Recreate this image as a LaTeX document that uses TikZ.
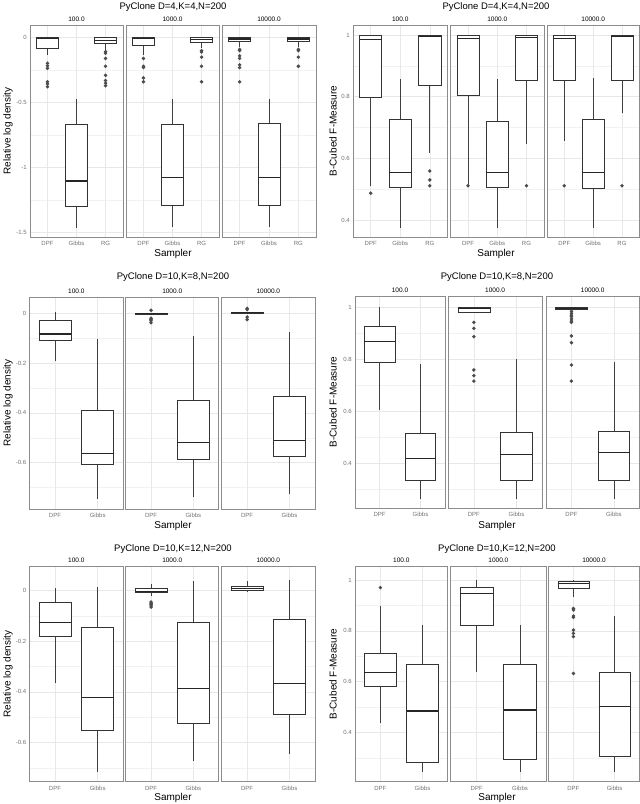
\documentclass[tikz,border=0pt]{standalone}
\usepackage{fontspec}
\setmainfont{Liberation Sans}
\begin{document}
\begin{tikzpicture}[x=1pt,y=-1pt]
\tikzset{
 gmaj/.style={draw=black!9, line width=0.5},
 gmin/.style={draw=black!5, line width=0.3},
 frm/.style={draw=black!45, line width=0.7},
 bxs/.style={draw=black!80, line width=0.6, fill=white},
 wh/.style={draw=black!75, line width=0.6},
 medl/.style={draw=black!85, line width=1.1},
 outl/.style={fill=black!70},
 ttl/.style={font=\fontsize{9.5}{10}\selectfont},
 facetlab/.style={font=\fontsize{6.5}{7}\selectfont},
 ticklab/.style={font=\fontsize{6}{6}\selectfont, text=black!55},
 axtitle/.style={font=\fontsize{10}{11}\selectfont}
}
\useasboundingbox[fill=white] (0,0) rectangle (640,804);
% facet: x1 x2 label
\newcommand\fct[3]{%
 \foreach \v in \minors {\draw[gmin] (#1,{\ya-\v*\yb}) -- (#2,{\ya-\v*\yb});}
 \foreach \v/\t in \ticks {\draw[gmaj] (#1,{\ya-\v*\yb}) -- (#2,{\ya-\v*\yb});}
 \foreach \i in {1,...,\ncat} {\draw[gmaj] ({#1+(#2-#1)*(\i-0.4)/(\ncat+0.2)},\ft) -- ({#1+(#2-#1)*(\i-0.4)/(\ncat+0.2)},\fb);}
 \draw[frm] (#1,\ft) rectangle (#2,\fb);
 \node[facetlab] at ({(#1+#2)/2},{\ft-6}) {#3};
}
\newcommand\ylabs[1]{%
 \foreach \v/\t in \ticks {\node[ticklab,anchor=east,inner sep=0pt] at ({#1-3},{\ya-\v*\yb}) {\t};}
}
\newcommand\xlabs[2]{%
 \ifnum\ncat=3
  \foreach \i/\t in {1/DPF,2/Gibbs,3/RG} {\node[ticklab] at ({#1+(#2-#1)*(\i-0.4)/3.2},{\fb+6.5}) {\t};}
 \else
  \foreach \i/\t in {1/DPF,2/Gibbs} {\node[ticklab] at ({#1+(#2-#1)*(\i-0.4)/2.2},{\fb+6.5}) {\t};}
 \fi
}
% box: x1 x2 i lo q1 med q3 hi
\newcommand\bxp[8]{%
 \pgfmathsetmacro\xc{#1+(#2-#1)*(#3-0.4)/(\ncat+0.2)}%
 \pgfmathsetmacro\hw{(#2-#1)*0.375/(\ncat+0.2)}%
 \draw[wh] (\xc,{\ya-(#4)*\yb}) -- (\xc,{\ya-(#5)*\yb});
 \draw[wh] (\xc,{\ya-(#7)*\yb}) -- (\xc,{\ya-(#8)*\yb});
 \draw[bxs] ({\xc-\hw},{\ya-(#5)*\yb}) rectangle ({\xc+\hw},{\ya-(#7)*\yb});
 \draw[medl] ({\xc-\hw},{\ya-(#6)*\yb}) -- ({\xc+\hw},{\ya-(#6)*\yb});
}
\newcommand\ol[1]{\foreach \o in {#1} {\fill[outl] (\xc,{\ya-\o*\yb}) circle (1.9);}}

% ===== Panel A
\def\ya{37.7}\def\yb{129.7}\def\ncat{3}\def\ft{25}\def\fb{237}
\def\minors{-0.25,-0.75,-1.25}\def\ticks{0/0,-0.5/-0.5,-1/-1,-1.5/-1.5}
\fct{30}{123}{100.0}\fct{126}{219}{1000.0}\fct{222}{316}{10000.0}
\ylabs{30}\xlabs{30}{123}\xlabs{126}{219}\xlabs{222}{316}
\node[ttl] (ta) at (173,7) {PyClone D=4,K=4,N=200};
\node[axtitle] (sa) at (173,254) {Sampler};
\node[axtitle,rotate=90] (ya) at (8,131) {Relative log density};
\bxp{30}{123}{1}{-0.133}{-0.082}{-0.005}{0}{0.005}\ol{-0.197,-0.216,-0.236,-0.34,-0.357,-0.378}
\bxp{30}{123}{2}{-1.465}{-1.303}{-1.105}{-0.665}{-0.473}
\bxp{30}{123}{3}{-0.095}{-0.043}{-0.02}{0}{0.005}\ol{-0.108,-0.12,-0.16,-0.22,-0.29,-0.33,-0.35,-0.37}
\bxp{126}{219}{1}{-0.13}{-0.06}{-0.003}{0}{0.005}\ol{-0.16,-0.22,-0.23,-0.31,-0.34}
\bxp{126}{219}{2}{-1.46}{-1.29}{-1.075}{-0.665}{-0.47}
\bxp{126}{219}{3}{-0.08}{-0.035}{-0.015}{0}{0.005}\ol{-0.1,-0.11,-0.15,-0.22,-0.34}
\bxp{222}{316}{1}{-0.07}{-0.03}{-0.01}{0}{0.005}\ol{-0.09,-0.1,-0.14,-0.16,-0.21,-0.23,-0.34}
\bxp{222}{316}{2}{-1.46}{-1.29}{-1.075}{-0.66}{-0.47}
\bxp{222}{316}{3}{-0.07}{-0.025}{-0.01}{0}{0.005}\ol{-0.09,-0.1,-0.15,-0.22}

% ===== Panel B
\def\ya{343.3}\def\yb{308.3}\def\ncat{3}\def\ft{25}\def\fb{237}
\def\minors{0.9,0.7,0.5}\def\ticks{1/1,0.8/0.8,0.6/0.6,0.4/0.4}
\fct{353}{447.5}{100.0}\fct{450.5}{544}{1000.0}\fct{547}{639.3}{10000.0}
\ylabs{353}\xlabs{353}{447.5}\xlabs{450.5}{544}\xlabs{547}{639.3}
\node[ttl] (tb) at (496,7) {PyClone D=4,K=4,N=200};
\node[axtitle] (sb) at (496,254) {Sampler};
\node[axtitle,rotate=90] (yb) at (333,131) {B-Cubed F-Measure};
\bxp{353}{447.5}{1}{0.511}{0.797}{0.986}{1}{1}\ol{0.487}
\bxp{353}{447.5}{2}{0.375}{0.506}{0.555}{0.727}{0.857}
\bxp{353}{447.5}{3}{0.618}{0.838}{0.995}{1}{1}\ol{0.559,0.530,0.511}
\bxp{450.5}{544}{1}{0.515}{0.806}{0.99}{1}{1}\ol{0.511}
\bxp{450.5}{544}{2}{0.375}{0.505}{0.555}{0.72}{0.857}
\bxp{450.5}{544}{3}{0.646}{0.854}{0.993}{1}{1}\ol{0.511}
\bxp{547}{639.3}{1}{0.657}{0.854}{0.99}{1}{1}\ol{0.511}
\bxp{547}{639.3}{2}{0.375}{0.502}{0.555}{0.727}{0.862}
\bxp{547}{639.3}{3}{0.746}{0.854}{0.995}{1}{1}\ol{0.511}

% ===== Panel C
\def\ya{313.3}\def\yb{248.9}\def\ncat{2}\def\ft{297.3}\def\fb{509.3}
\def\minors{-0.1,-0.3,-0.5,-0.7}\def\ticks{0/0,-0.2/-0.2,-0.4/-0.4,-0.6/-0.6}
\fct{29.3}{123.3}{100.0}\fct{125.7}{218.7}{1000.0}\fct{221.7}{315}{10000.0}
\ylabs{29.3}\xlabs{29.3}{123.3}\xlabs{125.7}{218.7}\xlabs{221.7}{315}
\node[ttl] (tc) at (173,277) {PyClone D=10,K=8,N=200};
\node[axtitle] (sc) at (173,526) {Sampler};
\node[axtitle,rotate=90] (yc) at (8,403) {Relative log density};
\bxp{29.3}{123.3}{1}{-0.19}{-0.107}{-0.083}{-0.027}{0.004}
\bxp{29.3}{123.3}{2}{-0.747}{-0.605}{-0.565}{-0.388}{-0.105}
\bxp{125.7}{218.7}{1}{-0.003}{-0.003}{0}{0.001}{0.001}\ol{0.012,-0.02,-0.025,-0.03,-0.038}
\bxp{125.7}{218.7}{2}{-0.737}{-0.587}{-0.52}{-0.351}{-0.091}
\bxp{221.7}{315}{1}{0}{0}{0.003}{0.004}{0.004}\ol{0.02,0.015,-0.015,-0.025}
\bxp{221.7}{315}{2}{-0.726}{-0.576}{-0.512}{-0.335}{-0.077}

% ===== Panel D
\def\ya{567.3}\def\yb{260}\def\ncat{2}\def\ft{296}\def\fb{508}
\def\minors{0.9,0.7,0.5,0.3}\def\ticks{1/1,0.8/0.8,0.6/0.6,0.4/0.4}
\fct{355}{445}{100.0}\fct{448.3}{542}{1000.0}\fct{546}{639.3}{10000.0}
\ylabs{355}\xlabs{355}{445}\xlabs{448.3}{542}\xlabs{546}{639.3}
\node[ttl] (td) at (497,277) {PyClone D=10,K=8,N=200};
\node[axtitle] (sd) at (497,526) {Sampler};
\node[axtitle,rotate=90] (yd) at (333,402) {B-Cubed F-Measure};
\bxp{355}{445}{1}{0.605}{0.787}{0.869}{0.928}{1}
\bxp{355}{445}{2}{0.261}{0.333}{0.419}{0.515}{0.782}
\bxp{448.3}{542}{1}{0.981}{0.981}{0.995}{1}{1}\ol{0.942,0.919,0.887,0.759,0.737,0.716}
\bxp{448.3}{542}{2}{0.261}{0.335}{0.433}{0.519}{0.8}
\bxp{546}{639.3}{1}{0.993}{0.993}{0.995}{1}{1}\ol{0.985,0.977,0.97,0.964,0.955,0.947,0.942,0.89,0.864,0.778,0.716}
\bxp{546}{639.3}{2}{0.261}{0.333}{0.441}{0.522}{0.791}

% ===== Panel E
\def\ya{590.7}\def\yb{252.8}\def\ncat{2}\def\ft{566}\def\fb{781.7}
\def\minors{-0.1,-0.3,-0.5,-0.7}\def\ticks{0/0,-0.2/-0.2,-0.4/-0.4,-0.6/-0.6}
\fct{29.3}{123.3}{100.0}\fct{125.7}{218.7}{1000.0}\fct{221.7}{315}{10000.0}
\ylabs{29.3}\xlabs{29.3}{123.3}\xlabs{125.7}{218.7}\xlabs{221.7}{315}
\node[ttl] (te) at (173,549) {PyClone D=10,K=12,N=200};
\node[axtitle] (se) at (173,798) {Sampler};
\node[axtitle,rotate=90] (ye) at (8,674) {Relative log density};
\bxp{29.3}{123.3}{1}{-0.367}{-0.179}{-0.125}{-0.047}{0.009}
\bxp{29.3}{123.3}{2}{-0.716}{-0.554}{-0.422}{-0.145}{0.016}
\bxp{125.7}{218.7}{1}{-0.02}{-0.008}{-0.002}{0.008}{0.025}\ol{-0.045,-0.05,-0.055,-0.06,-0.065}
\bxp{125.7}{218.7}{2}{-0.674}{-0.526}{-0.388}{-0.125}{0.038}
\bxp{221.7}{315}{1}{-0.005}{0.003}{0.008}{0.018}{0.04}
\bxp{221.7}{315}{2}{-0.644}{-0.488}{-0.367}{-0.112}{0.042}

% ===== Panel F
\def\ya{833.9}\def\yb{253.9}\def\ncat{2}\def\ft{566}\def\fb{781.7}
\def\minors{0.9,0.7,0.5,0.3}\def\ticks{1/1,0.8/0.8,0.6/0.6,0.4/0.4}
\fct{355}{447.7}{100.0}\fct{450.7}{546}{1000.0}\fct{548.7}{639.3}{10000.0}
\ylabs{355}\xlabs{355}{447.7}\xlabs{450.7}{546}\xlabs{548.7}{639.3}
\node[ttl] (tf) at (497,549) {PyClone D=10,K=12,N=200};
\node[axtitle] (sf) at (497,798) {Sampler};
\node[axtitle,rotate=90] (yf) at (333,674) {B-Cubed F-Measure};
\bxp{355}{447.7}{1}{0.435}{0.58}{0.636}{0.711}{0.899}\ol{0.97}
\bxp{355}{447.7}{2}{0.245}{0.281}{0.484}{0.669}{0.823}
\bxp{450.7}{546}{1}{0.636}{0.82}{0.947}{0.971}{1}
\bxp{450.7}{546}{2}{0.245}{0.294}{0.488}{0.669}{0.823}
\bxp{548.7}{639.3}{1}{0.934}{0.967}{0.987}{0.996}{1}\ol{0.888,0.882,0.858,0.853,0.803,0.79,0.777,0.632}
\bxp{548.7}{639.3}{2}{0.245}{0.304}{0.501}{0.635}{0.858}
\end{tikzpicture}
\end{document}
